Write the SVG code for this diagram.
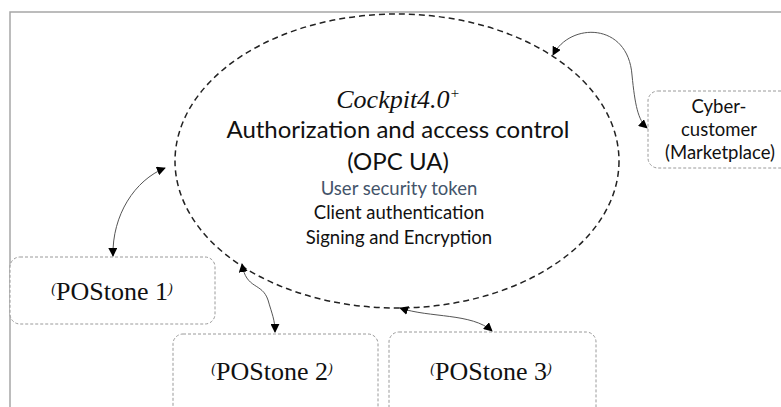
<svg xmlns="http://www.w3.org/2000/svg" width="781" height="407" viewBox="0 0 781 407">
<style>
.frame{fill:none;stroke:#a6a6a6;stroke-width:1.5}
.box{fill:#fff;stroke:#9a9a9a;stroke-width:1;stroke-dasharray:3 2}
.ell{fill:#fff;stroke:#222;stroke-width:1.5;stroke-dasharray:6 4}
.conn{fill:none;stroke:#555;stroke-width:1;marker-start:url(#arr);marker-end:url(#arr)}
.sans{font-family:Lato,"Liberation Sans",sans-serif;text-anchor:middle;fill:#111}
.serif{font-family:"Liberation Serif","Times New Roman",serif;text-anchor:middle;fill:#111}
.par{font-size:14px;font-style:italic}
</style>
<defs>
<marker id="arr" viewBox="0 0 10 10" refX="9" refY="5" markerWidth="9" markerHeight="9" markerUnits="userSpaceOnUse" orient="auto-start-reverse">
<path d="M0,0 L10,5 L0,10 z" fill="#000"/>
</marker>
</defs>
<path class="frame" d="M10,407 V12 H781"/>
<g id="cockpit">
<ellipse class="ell" cx="397" cy="161" rx="222" ry="147"/>
<text class="serif" x="398" y="108" font-size="26" font-style="italic">Cockpit4.0<tspan font-size="15" dy="-10">+</tspan></text>
<text class="sans" x="398" y="138" font-size="24">Authorization and access control</text>
<text class="sans" x="398" y="170" font-size="24">(OPC UA)</text>
<text class="sans" x="399" y="195" font-size="18.5" style="fill:#44546A">User security token</text>
<text class="sans" x="399" y="219" font-size="18.5">Client authentication</text>
<text class="sans" x="399" y="244" font-size="18.5">Signing and Encryption</text>
</g>
<g id="cyber">
<rect class="box" x="648" y="91" width="145" height="77" rx="10"/>
<text class="sans" x="719" y="113" font-size="18.5">Cyber-</text>
<text class="sans" x="719" y="136" font-size="18.5">customer</text>
<text class="sans" x="720" y="159" font-size="18.5">(Marketplace)</text>
</g>
<g id="postone1">
<rect class="box" x="10" y="257" width="205" height="67" rx="10"/>
<text class="serif" x="112" y="300" font-size="26"><tspan class="par" dy="-7">(</tspan><tspan dy="7">POStone 1</tspan><tspan class="par" dy="-7">)</tspan></text>
</g>
<g id="postone2">
<rect class="box" x="173" y="334" width="205" height="90" rx="10"/>
<text class="serif" x="272" y="380" font-size="26"><tspan class="par" dy="-7">(</tspan><tspan dy="7">POStone 2</tspan><tspan class="par" dy="-7">)</tspan></text>
</g>
<g id="postone3">
<rect class="box" x="389" y="332" width="207" height="90" rx="10"/>
<text class="serif" x="491" y="380" font-size="26"><tspan class="par" dy="-7">(</tspan><tspan dy="7">POStone 3</tspan><tspan class="par" dy="-7">)</tspan></text>
</g>
<g id="connectors">
<path class="conn" d="M553,55 C570,22 628,22 632,75 C635,105 638,120 647,128"/>
<path class="conn" d="M165,168 C135,180 112,215 113,256"/>
<path class="conn" d="M242,264 C246,290 262,282 268,300 C272,314 275,320 275,332"/>
<path class="conn" d="M400,308 C430,318 472,313 492,331"/>
</g>
</svg>
